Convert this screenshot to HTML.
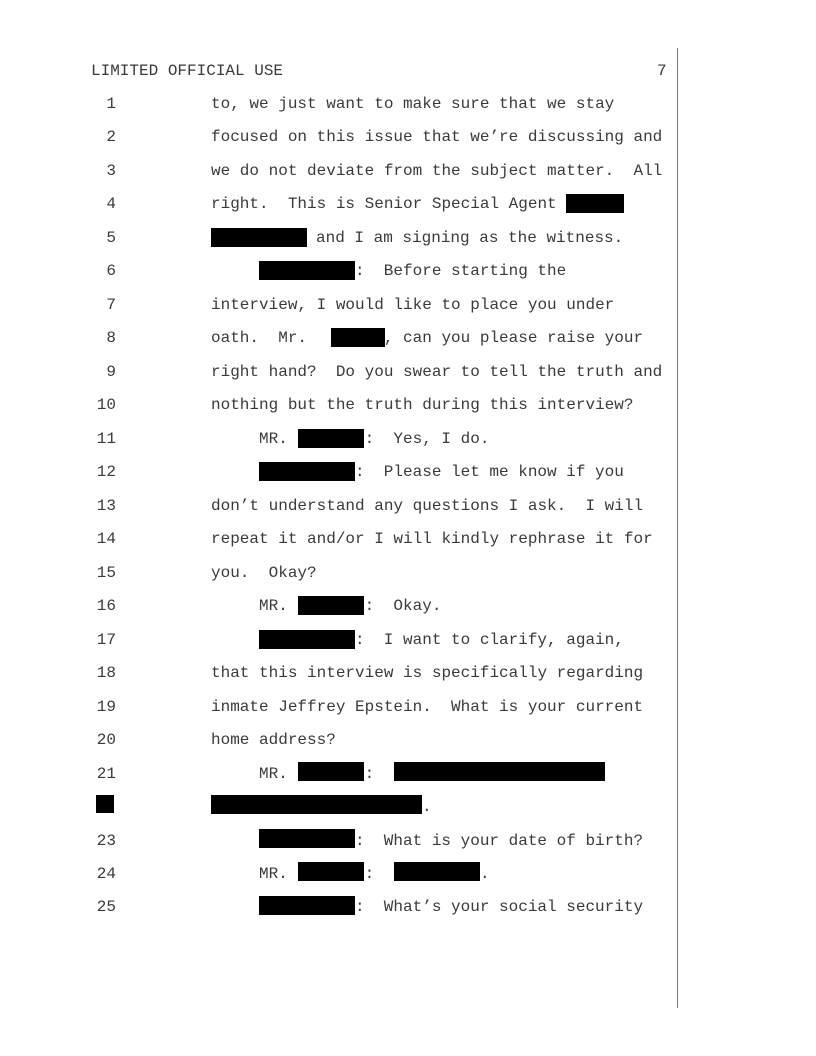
<!DOCTYPE html>
<html><head><meta charset="utf-8"><style>
html,body{margin:0;padding:0;background:#fff;}
body{width:816px;height:1056px;position:relative;overflow:hidden;font-family:"Liberation Mono","Courier New",monospace;font-size:16px;color:#3a3a3a;}
.t{position:absolute;white-space:pre;line-height:20px;height:20px;margin-top:1px;}
.n{position:absolute;width:40px;left:76px;text-align:right;line-height:20px;margin-top:1px;}
.b{position:absolute;background:#000;height:19px;}
.v{position:absolute;left:677px;top:48px;width:1px;height:960px;background:#777;}
</style></head><body>
<div class="v"></div>
<div class="t" style="left:91px;top:60px">LIMITED OFFICIAL USE</div>
<div class="t" style="left:657px;top:60px">7</div>

<div class="n" style="top:93px">1</div><div class="t" style="left:211px;top:93px">to, we just want to make sure that we stay</div>
<div class="n" style="top:126px">2</div><div class="t" style="left:211px;top:126px">focused on this issue that we’re discussing and</div>
<div class="n" style="top:160px">3</div><div class="t" style="left:211px;top:160px">we do not deviate from the subject matter.  All</div>
<div class="n" style="top:193px">4</div><div class="t" style="left:211px;top:193px">right.  This is Senior Special Agent</div>
<div class="b" style="left:566px;top:194px;width:58px"></div>
<div class="n" style="top:227px">5</div><div class="t" style="left:316px;top:227px">and I am signing as the witness.</div>
<div class="b" style="left:211px;top:228px;width:96px"></div>
<div class="n" style="top:260px">6</div><div class="t" style="left:355px;top:260px">:  Before starting the</div>
<div class="b" style="left:259px;top:261px;width:96px"></div>
<div class="n" style="top:294px">7</div><div class="t" style="left:211px;top:294px">interview, I would like to place you under</div>
<div class="n" style="top:327px">8</div><div class="t" style="left:211px;top:327px">oath.  Mr.        , can you please raise your</div>
<div class="b" style="left:331px;top:328px;width:54px"></div>
<div class="n" style="top:361px">9</div><div class="t" style="left:211px;top:361px">right hand?  Do you swear to tell the truth and</div>
<div class="n" style="top:394px">10</div><div class="t" style="left:211px;top:394px">nothing but the truth during this interview?</div>
<div class="n" style="top:428px">11</div><div class="t" style="left:259px;top:428px">MR.        :  Yes, I do.</div>
<div class="b" style="left:298px;top:429px;width:66px"></div>
<div class="n" style="top:461px">12</div><div class="t" style="left:355px;top:461px">:  Please let me know if you</div>
<div class="b" style="left:259px;top:462px;width:96px"></div>
<div class="n" style="top:495px">13</div><div class="t" style="left:211px;top:495px">don’t understand any questions I ask.  I will</div>
<div class="n" style="top:528px">14</div><div class="t" style="left:211px;top:528px">repeat it and/or I will kindly rephrase it for</div>
<div class="n" style="top:562px">15</div><div class="t" style="left:211px;top:562px">you.  Okay?</div>
<div class="n" style="top:595px">16</div><div class="t" style="left:259px;top:595px">MR.        :  Okay.</div>
<div class="b" style="left:298px;top:596px;width:66px"></div>
<div class="n" style="top:629px">17</div><div class="t" style="left:355px;top:629px">:  I want to clarify, again,</div>
<div class="b" style="left:259px;top:630px;width:96px"></div>
<div class="n" style="top:662px">18</div><div class="t" style="left:211px;top:662px">that this interview is specifically regarding</div>
<div class="n" style="top:696px">19</div><div class="t" style="left:211px;top:696px">inmate Jeffrey Epstein.  What is your current</div>
<div class="n" style="top:729px">20</div><div class="t" style="left:211px;top:729px">home address?</div>
<div class="n" style="top:763px">21</div><div class="t" style="left:259px;top:763px">MR.        :</div>
<div class="b" style="left:298px;top:762px;width:66px"></div>
<div class="b" style="left:394px;top:762px;width:211px"></div>
<div class="b" style="left:96px;top:795px;width:18px;height:18px"></div>
<div class="b" style="left:211px;top:795px;width:211px"></div>
<div class="t" style="left:422px;top:796px">.</div>
<div class="n" style="top:830px">23</div><div class="t" style="left:355px;top:830px">:  What is your date of birth?</div>
<div class="b" style="left:259px;top:829px;width:96px"></div>
<div class="n" style="top:863px">24</div><div class="t" style="left:259px;top:863px">MR.        :</div>
<div class="b" style="left:298px;top:862px;width:66px"></div>
<div class="b" style="left:394px;top:862px;width:86px"></div>
<div class="t" style="left:480px;top:863px">.</div>
<div class="n" style="top:896px">25</div><div class="t" style="left:355px;top:896px">:  What’s your social security</div>
<div class="b" style="left:259px;top:896px;width:96px"></div>
</body></html>
